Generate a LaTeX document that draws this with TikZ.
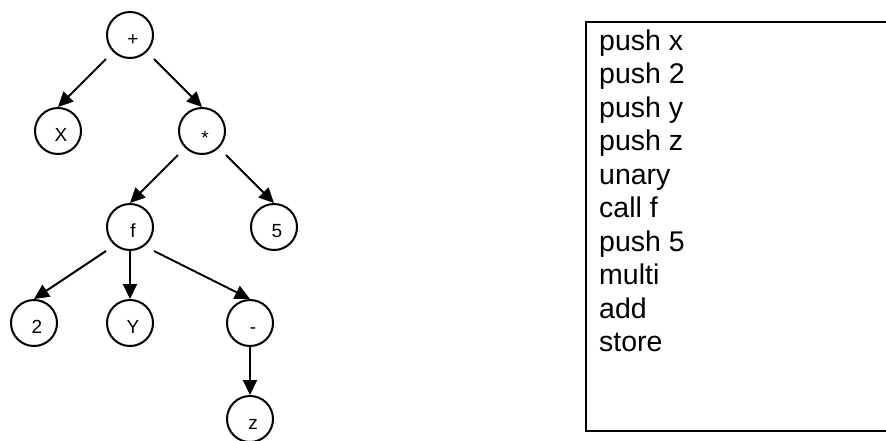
\documentclass[tikz,border=0pt]{standalone}
\usepackage{fontspec}
\setmainfont{Liberation Sans}
\usetikzlibrary{arrows.meta}
\begin{document}
\begin{tikzpicture}[x=1pt,y=-1pt,
  vtx/.style={circle,draw,line width=2pt,minimum size=46pt,inner sep=0pt},
  lbl/.style={font=\fontsize{19}{21}\selectfont,text height=13pt,text depth=0pt,
              inner sep=0pt,xshift=3pt,yshift=-3.8pt},
  link/.style={line width=2pt,-{Triangle[length=15pt,width=14pt]}},
  cmd/.style={anchor=base west,inner sep=0pt,font=\fontsize{28.5}{33.5}\selectfont}]
\useasboundingbox (0,0) rectangle (886,440);
\clip (0,0) rectangle (886,440);

% expression tree
\node[vtx,label={[lbl]center:+}] (plus)  at (130,35)  {};
\node[vtx,label={[lbl]center:X}] (x)     at (58,131)  {};
\node[vtx,label={[lbl,yshift=-3pt]center:*}] (times) at (202,131) {};
\node[vtx,label={[lbl]center:f}] (f)     at (130,227) {};
\node[vtx,label={[lbl]center:5}] (five)  at (274,227) {};
\node[vtx,label={[lbl]center:2}] (two)   at (34,323)  {};
\node[vtx,label={[lbl]center:Y}] (y)     at (130,323) {};
\node[vtx,label={[lbl]center:-}] (neg)   at (250,323) {};
\node[vtx,label={[lbl]center:z}] (z)     at (250,419) {};

\draw[link] (plus.south -| plus.west)   -- (x.north);
\draw[link] (plus.south -| plus.east)   -- (times.north);
\draw[link] (times.south -| times.west) -- (f.north);
\draw[link] (times.south -| times.east) -- (five.north);
\draw[link] (f.south -| f.west)         -- (two.north);
\draw[link] (f.south)                   -- (y.north);
\draw[link] (f.south -| f.east)         -- (neg.north);
\draw[link] (neg.south)                 -- (z.north);

% generated stack code
\node[draw,line width=2pt,inner sep=0pt,outer sep=0pt,anchor=north west,
      minimum width=306pt,minimum height=409pt] (listing) at (586,22) {};
\foreach \t [count=\i] in {push x,push 2,push y,push z,unary,call f,push 5,multi,add,store}
  \node[cmd] (cmd\i) at (599,{50+33.5*(\i-1)}) {\t};
\end{tikzpicture}
\end{document}
